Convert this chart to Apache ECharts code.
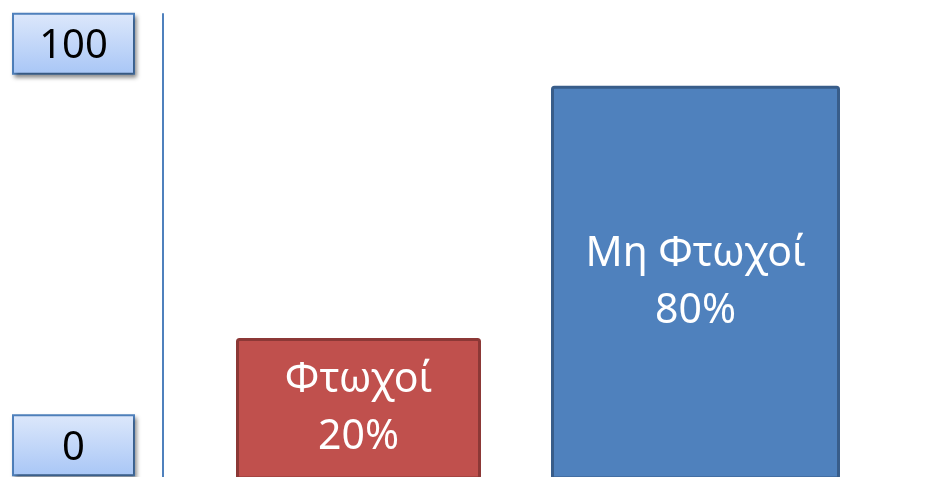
<!DOCTYPE html>
<html>
<head>
    <meta charset="utf-8">
    <title>Φτωχοί / Μη Φτωχοί</title>
    <script src="https://cdn.jsdelivr.net/npm/echarts@6/dist/echarts.min.js"></script>
    <style>
        html, body { margin: 0; padding: 0; background: #fff; }
    </style>
</head>
<body>
    <div id="main" style="width: 933px;height:477px;"></div>
    <script type="text/javascript">
    var myChart = echarts.init(document.getElementById('main'));

    // data
    var categories = ['Φτωχοί', 'Μη Φτωχοί'];
    var values = [20, 80];
    var tickLabels = [0, 100];

    // looks of each bar (kept apart from the data)
    var barWidths = [242, 286];
    var barFills = ['#c0504d', '#4f81bd'];
    var barBorders = ['#8c3836', '#385d8a'];

    var font = '41px "Noto Sans", sans-serif';

    option = {
        animation: false,
        // grid runs a little past the bottom edge, the picture is cropped there
        grid: { left: 190, right: 69, top: 14, bottom: -5 },
        xAxis: {
            type: 'category',
            data: categories,
            show: false
        },
        yAxis: [{
            // visible axis with the two boxed labels
            type: 'value',
            min: -7.88,
            max: 107.39,
            offset: 27,
            axisLine: { show: true, lineStyle: { color: '#4f81bd', width: 2 } },
            axisTick: { show: false },
            splitLine: { show: false },
            axisLabel: {
                customValues: tickLabels,
                margin: 30,
                formatter: '{b|{value}}',
                rich: {
                    b: {
                        width: 119,
                        height: 52,
                        lineHeight: 52,
                        padding: [6, 0, 0, 0],
                        align: 'center',
                        verticalAlign: 'middle',
                        fontSize: 40,
                        fontFamily: '"Noto Sans", sans-serif',
                        color: '#000',
                        borderColor: '#4f81bd',
                        borderWidth: 2,
                        backgroundColor: new echarts.graphic.LinearGradient(0, 0, 0, 1, [
                            { offset: 0, color: '#dde8fb' },
                            { offset: 1, color: '#a8c6f6' }
                        ]),
                        shadowBlur: 4,
                        shadowOffsetX: 2,
                        shadowOffsetY: 3,
                        shadowColor: 'rgba(0,0,0,0.35)'
                    }
                }
            }
        }, {
            // hidden scale for the bars
            type: 'value',
            min: -12.71,
            max: 97.41,
            show: false
        }],
        series: [{
            type: 'custom',
            yAxisIndex: 1,
            encode: { x: 0, y: 1 },
            data: values.map(function (v, i) { return [i, v]; }),
            renderItem: function (params, api) {
                var i = api.value(0);
                var top = api.coord([i, api.value(1)]);
                // bars run off the bottom edge
                var bottom = params.coordSys.y + params.coordSys.height + 1;
                var w = barWidths[i];
                return {
                    type: 'rect',
                    shape: { x: top[0] - w / 2, y: top[1], width: w, height: bottom - top[1], r: 2 },
                    style: { fill: barFills[i], stroke: barBorders[i], lineWidth: 3 },
                    textContent: {
                        style: {
                            text: categories[i] + '\n' + values[i] + '%',
                            fill: '#fff',
                            font: font,
                            lineHeight: 57,
                            align: 'center'
                        }
                    },
                    textConfig: { position: 'inside' }
                };
            }
        }]
    };

    myChart.setOption(option);
    </script>
</body>
</html>
